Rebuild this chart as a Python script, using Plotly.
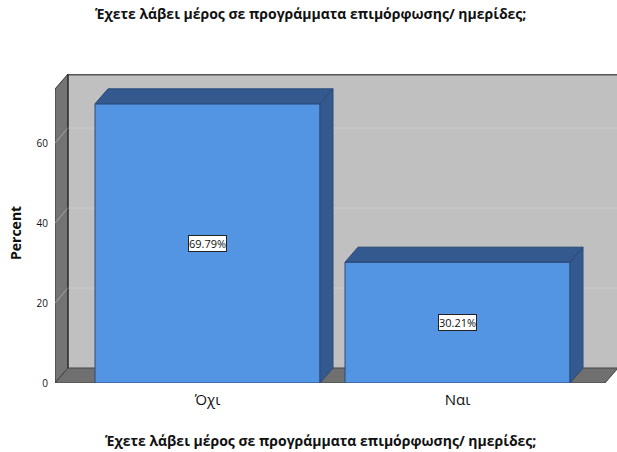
import plotly.graph_objects as go

# ---- data ----
categories = ["Όχι", "Ναι"]
percent = [69.79, 30.21]
value_labels = ["69.79%", "30.21%"]
y_ticks = [0, 20, 40, 60]
title_text = "Έχετε λάβει μέρος σε προγράμματα επιμόρφωσης/ ημερίδες;"
y_title = "Percent"

# ---- geometry (layout) ----
W, H = 617, 452
ML, MR, MT, MB = 55, 0, 74, 69
PW, PH = W - ML - MR, H - MT - MB
XR = [-0.61, 1.638]
YR = [0, 77.25]
DX = 13 * (XR[1] - XR[0]) / PW   # depth offset in x data units
DY = 15 * (YR[1] - YR[0]) / PH   # depth offset in y data units
BW = 0.9
X_FRONT_R = 1.59
Y_FRONT_TOP = YR[1] - DY
FONT = "Open Sans"

FRONT = "#5495e3"
DARK = "#34598e"
EDGE = "#2b4a78"

fig = go.Figure()
xs = list(range(len(categories)))
fig.add_trace(go.Bar(x=xs, y=percent, width=BW, marker=dict(color=FRONT, line=dict(color=EDGE, width=1)),
                     hoverinfo="skip"))

shapes = []
# back wall
shapes.append(dict(type="path", xref="x", yref="y", layer="below",
                   path=f"M{XR[0]+DX},{DY} L{XR[1]+0.01},{DY} L{XR[1]+0.01},{YR[1]} L{XR[0]+DX},{YR[1]} Z",
                   fillcolor="#c0c0c0", line=dict(width=0)))
# left wall
shapes.append(dict(type="path", xref="x", yref="y", layer="below",
                   path=f"M{XR[0]},0 L{XR[0]+DX},{DY} L{XR[0]+DX},{YR[1]} L{XR[0]},{Y_FRONT_TOP} Z",
                   fillcolor="#747474", line=dict(color="#333333", width=1)))
# floor
shapes.append(dict(type="path", xref="x", yref="y", layer="below",
                   path=f"M{XR[0]},0 L{XR[0]+DX},{DY} L{X_FRONT_R+DX},{DY} L{X_FRONT_R},0 Z",
                   fillcolor="#707070", line=dict(color="#444444", width=1)))
# grid lines on walls
for t in y_ticks[1:]:
    shapes.append(dict(type="line", xref="x", yref="y", layer="below",
                       x0=XR[0] + DX, x1=XR[1] + 0.01, y0=t + DY, y1=t + DY,
                       line=dict(color="#cdcdcd", width=1)))
    shapes.append(dict(type="line", xref="x", yref="y", layer="below",
                       x0=XR[0], x1=XR[0] + DX, y0=t, y1=t + DY,
                       line=dict(color="#a8a8a8", width=1)))
# back wall top border
shapes.append(dict(type="line", xref="x", yref="y", layer="below",
                   x0=XR[0] + DX, x1=XR[1] + 0.01, y0=YR[1] - 0.15, y1=YR[1] - 0.15,
                   line=dict(color="#555555", width=2)))
# inner corner line
shapes.append(dict(type="line", xref="x", yref="y", layer="below",
                   x0=XR[0] + DX, x1=XR[0] + DX, y0=DY, y1=YR[1],
                   line=dict(color="#222222", width=1)))

# 3D faces of bars
for x, v in zip(xs, percent):
    l, r = x - BW / 2, x + BW / 2
    shapes.append(dict(type="path", xref="x", yref="y", layer="above",
                       path=f"M{l},{v} L{r},{v} L{r+DX},{v+DY} L{l+DX},{v+DY} Z",
                       fillcolor=DARK, line=dict(color=EDGE, width=1)))
    shapes.append(dict(type="path", xref="x", yref="y", layer="above",
                       path=f"M{r},0 L{r},{v} L{r+DX},{v+DY} L{r+DX},{DY} Z",
                       fillcolor=DARK, line=dict(color=EDGE, width=1)))

annotations = []
for x, v, lab in zip(xs, percent, value_labels):
    annotations.append(dict(x=x, y=v / 2, xref="x", yref="y", text=lab, showarrow=False,
                            font=dict(family=FONT, size=11, color="#111111"),
                            bgcolor="white", bordercolor="#222222", borderwidth=1, borderpad=0))

annotations.append(dict(x=(310 - ML) / PW, y=1 + (MT - 13) / PH, xref="paper", yref="paper",
                        yanchor="middle", xanchor="center",
                        text=f"<b>{title_text}</b>", showarrow=False,
                        font=dict(family=FONT, size=14, color="#111111")))
annotations.append(dict(x=(320 - ML) / PW, y=(383 - 440) / PH, xref="paper", yref="paper",
                        yanchor="middle", xanchor="center",
                        text=f"<b>{title_text}</b>", showarrow=False,
                        font=dict(family=FONT, size=14, color="#111111")))
annotations.append(dict(x=(15 - ML) / PW, y=(383 - 233) / PH, xref="paper", yref="paper",
                        yanchor="middle", xanchor="center",
                        text=f"<b>{y_title}</b>", showarrow=False, textangle=-90,
                        font=dict(family=FONT, size=14, color="#111111")))

fig.update_layout(
    width=W, height=H, margin=dict(l=ML, r=MR, t=MT, b=MB),
    paper_bgcolor="white", plot_bgcolor="white", showlegend=False,
    shapes=shapes, annotations=annotations,
    xaxis=dict(range=XR, tickmode="array", tickvals=xs, ticktext=categories,
               showgrid=False, zeroline=False, showline=False, ticks="",
               ticklabelstandoff=6,
               tickfont=dict(family=FONT, size=15, color="#111111")),
    yaxis=dict(range=YR, tickmode="array", tickvals=y_ticks, ticktext=[str(t) for t in y_ticks],
               showgrid=False, zeroline=False, showline=False, ticks="",
               ticklabelstandoff=6,
               tickfont=dict(family=FONT, size=10, color="#111111")),
)
fig.write_html("out.html", config={"displayModeBar": False},
               post_script="document.body.style.margin='0';")
